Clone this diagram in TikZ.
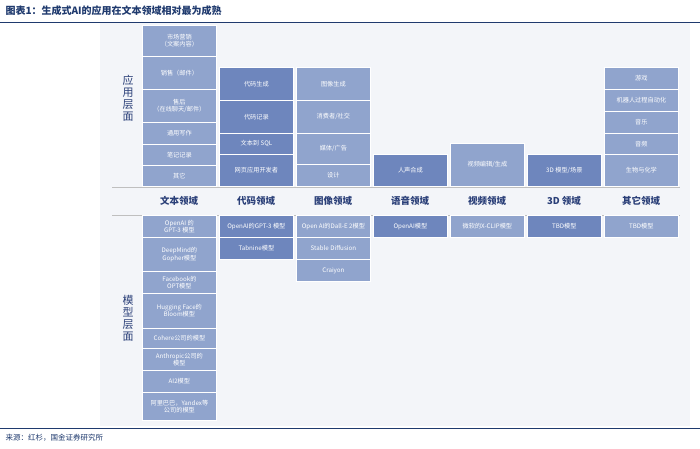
\documentclass[tikz,border=0pt]{standalone}
\usepackage{fontspec}
\setmainfont{Noto Sans CJK SC}
\usetikzlibrary{positioning}
\definecolor{lightblk}{HTML}{90A4CD}
\definecolor{darkblk}{HTML}{6E86BD}
\definecolor{titleblue}{HTML}{1F3A6E}
\definecolor{headblue}{HTML}{2A3F78}
\definecolor{bgpanel}{HTML}{F3F5F9}
\begin{document}
\begin{tikzpicture}[
    x=1pt, y=-1pt,
    blk/.style={draw=white, line width=0.8pt, anchor=north west, minimum width=74pt, inner sep=1pt, align=center, text=white, font=\fontsize{6.2}{7.4}\selectfont},
    lt/.style={blk, fill=lightblk},
    dk/.style={blk, fill=darkblk},
    head/.style={font=\bfseries\fontsize{9.5}{11}\selectfont, text=headblue},
    side/.style={font=\fontsize{11}{12}\selectfont, text=headblue, align=center}
]
\useasboundingbox (0,0) rectangle (700,448);
\fill[white] (0,0) rectangle (700,448);
\fill[bgpanel] (100,22) rectangle (690,426);

% Title and rules
\node[anchor=west, font=\bfseries\itshape\fontsize{10}{11}\selectfont, text=titleblue] (title) at (2,11) {图表1：生成式AI的应用在文本领域相对最为成熟};
\draw[titleblue, line width=1pt] (0,22) -- (700,22);
\draw[titleblue, line width=0.8pt] (0,428) -- (700,428);
\node[anchor=west, font=\fontsize{7.5}{8}\selectfont, text=titleblue] (source) at (2,438) {来源：红杉，国金证券研究所};

% Side labels
\node[side] (applayer) at (128,98) {应\\用\\层\\面};
\node[side] (modellayer) at (128,318) {模\\型\\层\\面};

% Header band
\draw[gray!50, line width=0.6pt] (112,187) -- (680,187);
\draw[gray!50, line width=0.6pt] (112,215) -- (680,215);
\node[head] (h1) at (179,201) {文本领域};
\node[head] (h2) at (256,201) {代码领域};
\node[head] (h3) at (333,201) {图像领域};
\node[head] (h4) at (410,201) {语音领域};
\node[head] (h5) at (487,201) {视频领域};
\node[head] (h6) at (564,201) {3D 领域};
\node[head] (h7) at (641,201) {其它领域};

% Application layer: text
\node[lt, minimum height=31pt] (a11) at (142,25) {市场营销\\（文案内容）};
\node[lt, minimum height=33pt] (a12) at (142,56) {销售（邮件）};
\node[lt, minimum height=33pt] (a13) at (142,89) {售后\\（在线聊天/邮件）};
\node[lt, minimum height=22pt] (a14) at (142,122) {通用写作};
\node[lt, minimum height=21pt] (a15) at (142,144) {笔记记录};
\node[lt, minimum height=21pt] (a16) at (142,165) {其它};

% Application layer: code
\node[dk, minimum height=33pt] (a21) at (219,67) {代码生成};
\node[dk, minimum height=33pt] (a22) at (219,100) {代码记录};
\node[dk, minimum height=21pt] (a23) at (219,133) {文本到 SQL};
\node[dk, minimum height=32pt] (a24) at (219,154) {网页应用开发者};

% Application layer: image
\node[lt, minimum height=33pt] (a31) at (296,67) {图像生成};
\node[lt, minimum height=33pt] (a32) at (296,100) {消费者/社交};
\node[lt, minimum height=31pt] (a33) at (296,133) {媒体/广告};
\node[lt, minimum height=22pt] (a34) at (296,164) {设计};

% Application layer: speech, video, 3D
\node[dk, minimum height=32pt] (a41) at (373,154) {人声合成};
\node[lt, minimum height=43pt] (a51) at (450,143) {视频编辑/生成};
\node[dk, minimum height=32pt] (a61) at (527,154) {3D 模型/场景};

% Application layer: other
\node[lt, minimum height=22pt] (a71) at (604,67) {游戏};
\node[lt, minimum height=22pt] (a72) at (604,89) {机器人过程自动化};
\node[lt, minimum height=22pt] (a73) at (604,111) {音乐};
\node[lt, minimum height=22pt] (a74) at (604,133) {音频};
\node[lt, minimum height=32pt] (a75) at (604,154) {生物与化学};

% Model layer
\node[lt, minimum height=22pt] (m11) at (142,215) {OpenAI 的\\GPT-3 模型};
\node[lt, minimum height=34pt] (m12) at (142,237) {DeepMind的\\Gopher模型};
\node[lt, minimum height=22pt] (m13) at (142,271) {Facebook的\\OPT模型};
\node[lt, minimum height=35pt] (m14) at (142,293) {Hugging Face的\\Bloom模型};
\node[lt, minimum height=20pt] (m15) at (142,328) {Cohere公司的模型};
\node[lt, minimum height=22pt] (m16) at (142,348) {Anthropic公司的\\模型};
\node[lt, minimum height=22pt] (m17) at (142,370) {AI2模型};
\node[lt, minimum height=28pt] (m18) at (142,392) {阿里巴巴，Yandex等\\公司的模型};

\node[dk, minimum height=22pt] (m21) at (219,215) {OpenAI的GPT-3 模型};
\node[dk, minimum height=22pt] (m22) at (219,237) {Tabnine模型};
\node[lt, minimum height=22pt] (m31) at (296,215) {Open AI的Dall-E 2模型};
\node[lt, minimum height=22pt] (m32) at (296,237) {Stable Diffusion};
\node[lt, minimum height=22pt] (m33) at (296,259) {Craiyon};
\node[dk, minimum height=22pt] (m41) at (373,215) {OpenAI模型};
\node[lt, minimum height=22pt] (m51) at (450,215) {微软的X-CLIP模型};
\node[dk, minimum height=22pt] (m61) at (527,215) {TBD模型};
\node[lt, minimum height=22pt] (m71) at (604,215) {TBD模型};
\end{tikzpicture}
\end{document}
